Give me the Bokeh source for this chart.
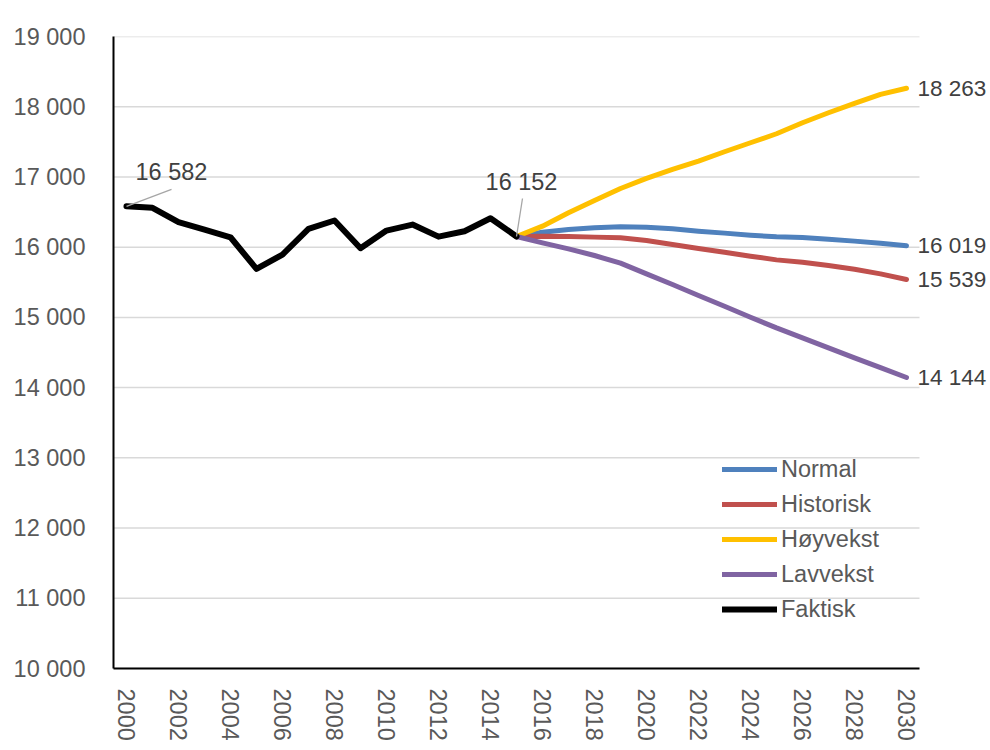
import math
from bokeh.plotting import figure
from bokeh.models import Range1d, FixedTicker, Legend, LegendItem
from bokeh.core.properties import value
from bokeh.embed import file_html
from bokeh.resources import INLINE

# ---------------- data ----------------
years_actual = list(range(2000, 2016))
faktisk = [16582, 16560, 16355, 16250, 16141, 15690, 15895, 16260, 16380, 15985,
           16236, 16322, 16150, 16227, 16412, 16152]

years_proj = list(range(2015, 2031))
normal = [16152, 16214, 16252, 16276, 16290, 16285, 16261, 16228, 16200, 16171,
          16147, 16138, 16114, 16086, 16057, 16019]
historisk = [16152, 16157, 16152, 16143, 16133, 16095, 16038, 15981, 15929, 15872,
             15819, 15786, 15739, 15686, 15620, 15539]
hoyvekst = [16152, 16299, 16489, 16665, 16836, 16979, 17107, 17226, 17359, 17487,
            17615, 17772, 17914, 18048, 18176, 18263]
lavvekst = [16152, 16062, 15976, 15881, 15772, 15620, 15468, 15311, 15159, 15002,
            14850, 14708, 14565, 14423, 14285, 14144]

series_names = ["Normal", "Historisk", "Høyvekst", "Lavvekst", "Faktisk"]
series_colors = ["#4F81BD", "#C0504D", "#FFC000", "#8064A2", "#000000"]

y_ticks = [10000, 11000, 12000, 13000, 14000, 15000, 16000, 17000, 18000, 19000]
y_tick_labels = ["10 000", "11 000", "12 000", "13 000", "14 000",
                 "15 000", "16 000", "17 000", "18 000", "19 000"]
x_ticks = list(range(2000, 2031, 2))
x_tick_labels = [str(t) for t in x_ticks]

def fmt(v):
    return f"{v:,}".replace(",", " ")

# ---------------- layout ----------------
FONT = "Liberation Sans"
FS = "23.5px"
PX_PER_YEAR = 26.0
PX_PER_UNIT = 632.0 / 9000.0
W, H = 990, 750
LEFT, TOP, BOTTOM = 113, 36, 82
frame_w = W - LEFT
x0 = 1999.5
x1 = x0 + frame_w / PX_PER_YEAR

p = figure(width=W, height=H, output_backend="svg", toolbar_location=None,
           x_range=Range1d(x0, x1), y_range=Range1d(10000, 19000),
           min_border_left=LEFT, min_border_right=0, min_border_top=TOP,
           min_border_bottom=BOTTOM)
p.outline_line_color = None
p.xgrid.visible = False
p.ygrid.visible = False
p.background_fill_color = "white"
p.border_fill_color = "white"

# gridlines limited to the category area
p.segment(x0=[x0] * len(y_ticks), y0=y_ticks, x1=[2030.5] * len(y_ticks), y1=y_ticks,
          line_color="#D9D9D9", line_width=1.5)

# axes
ya = p.yaxis[0]
ya.ticker = FixedTicker(ticks=y_ticks)
ya.major_label_overrides = {t: l for t, l in zip(y_ticks, y_tick_labels)}
ya.major_tick_line_color = None
ya.minor_tick_line_color = None
ya.axis_line_color = "black"
ya.axis_line_width = 2
ya.major_label_standoff = 22
ya.major_label_text_font = FONT
ya.major_label_text_font_size = FS
ya.major_label_text_color = "#595959"

xa = p.xaxis[0]
xa.ticker = FixedTicker(ticks=x_ticks)
xa.major_label_overrides = {t: l for t, l in zip(x_ticks, x_tick_labels)}
xa.bounds = (x0, 2030.5)
xa.major_tick_line_color = None
xa.minor_tick_line_color = None
xa.axis_line_color = "black"
xa.axis_line_width = 2
xa.major_label_orientation = -math.pi / 2
xa.major_label_standoff = 14
xa.major_label_text_font = FONT
xa.major_label_text_font_size = FS
xa.major_label_text_color = "#595959"

# lines
renderers = {}
for name, ys, col in zip(series_names[:4], [normal, historisk, hoyvekst, lavvekst], series_colors[:4]):
    renderers[name] = p.line(years_proj, ys, line_color=col, line_width=5,
                             line_cap="round", line_join="round")
renderers["Faktisk"] = p.line(years_actual, faktisk, line_color="black", line_width=6,
                              line_cap="round", line_join="round")

# leader lines for the two labels on the actual series
lead_x = [years_actual[0], years_actual[-1]]
lead_y = [faktisk[0], faktisk[-1]]
lead_dx = [45 / PX_PER_YEAR, 6 / PX_PER_YEAR]
lead_dy = [17 / PX_PER_UNIT, 38 / PX_PER_UNIT]
p.segment(x0=lead_x, y0=lead_y,
          x1=[a + b for a, b in zip(lead_x, lead_dx)],
          y1=[a + b for a, b in zip(lead_y, lead_dy)],
          line_color="#A6A6A6", line_width=1.3)

# data labels
p.text(x=[years_actual[0]], y=[faktisk[0]], text=[fmt(faktisk[0])],
       x_offset=9, y_offset=-34, text_font=value(FONT), text_font_size=FS,
       text_color="#404040", text_align="left", text_baseline="middle")
p.text(x=[years_actual[-1]], y=[faktisk[-1]], text=[fmt(faktisk[-1])],
       x_offset=5, y_offset=-54, text_font=value(FONT), text_font_size=FS,
       text_color="#404040", text_align="center", text_baseline="middle")
end_vals = [hoyvekst[-1], normal[-1], historisk[-1], lavvekst[-1]]
p.text(x=[years_proj[-1]] * 4, y=end_vals, text=[fmt(v) for v in end_vals],
       x_offset=11, y_offset=0, text_font=value(FONT), text_font_size="22.5px",
       text_color="#404040", text_align="left", text_baseline="middle")

# legend
legend = Legend(items=[LegendItem(label=n, renderers=[renderers[n]]) for n in series_names],
                location=(609, 45), orientation="vertical",
                background_fill_alpha=0, border_line_alpha=0,
                glyph_width=55, glyph_height=20, label_height=28, label_standoff=4,
                spacing=7, padding=0, margin=0,
                label_text_font=FONT, label_text_font_size=FS,
                label_text_color="#595959", label_text_baseline="middle")
p.add_layout(legend)

open("out.html", "w").write(file_html(p, INLINE))
